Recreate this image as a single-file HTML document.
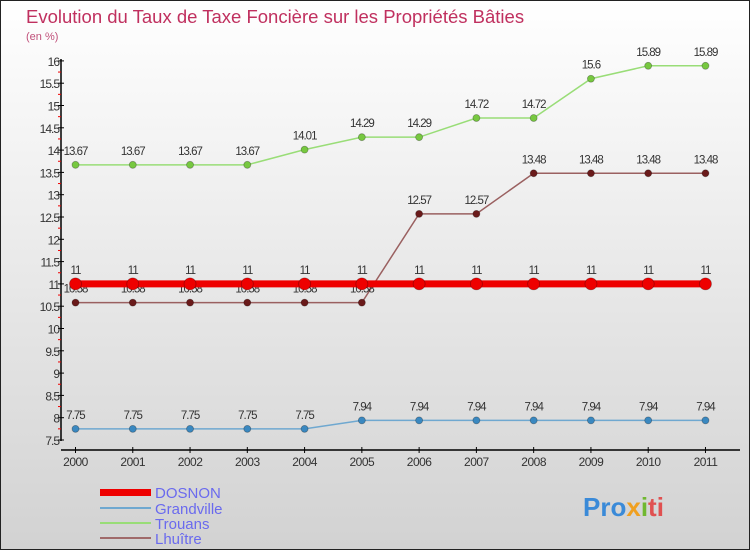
<!DOCTYPE html>
<html><head><meta charset="utf-8"><style>
body{margin:0;width:750px;height:550px;overflow:hidden;font-family:"Liberation Sans",sans-serif}
svg text{font-family:"Liberation Sans",sans-serif}
</style></head><body>
<svg id="c" width="750" height="550" xmlns="http://www.w3.org/2000/svg">
<defs><linearGradient id="bg" x1="0" y1="0" x2="0" y2="1"><stop offset="0" stop-color="#ffffff"/><stop offset="1" stop-color="#d2d2d2"/></linearGradient></defs>
<rect x="0.5" y="0.5" width="749" height="549" fill="url(#bg)" stroke="#222"/>
<text x="26" y="23" font-size="18.5" fill="#c0305f">Evolution du Taux de Taxe Foncière sur les Propriétés Bâties</text>
<text x="26" y="40" font-size="11" fill="#c0507a">(en %)</text>
<g id="axes"></g><g id="series"></g>
<g>
<rect x="100" y="489" width="51" height="7" fill="#ee0000"/>
<text x="155" y="498" font-size="15" fill="#6a6aee">DOSNON</text>
<rect x="100" y="507" width="51" height="2" fill="#6fa8d0"/>
<text x="155" y="514" font-size="15" fill="#6a6aee">Grandville</text>
<rect x="100" y="522" width="51" height="2" fill="#99dd77"/>
<text x="155" y="529" font-size="15" fill="#6a6aee">Trouans</text>
<rect x="100" y="537" width="51" height="2" fill="#a06a6a"/>
<text x="155" y="544" font-size="15" fill="#6a6aee">Lhuître</text>
</g>
<g><text x="583" y="516" font-size="26" font-weight="bold" fill="#3a8ad8">Pro<tspan fill="#f0a020">x</tspan><tspan fill="#70b830">i</tspan><tspan fill="#e05050">ti</tspan></text></g>
</svg>
<script>
const years=[2000,2001,2002,2003,2004,2005,2006,2007,2008,2009,2010,2011];
const yTicks=[7.5,8,8.5,9,9.5,10,10.5,11,11.5,12,12.5,13,13.5,14,14.5,15,15.5,16];
const dosnon=[11,11,11,11,11,11,11,11,11,11,11,11];
const grandville=[7.75,7.75,7.75,7.75,7.75,7.94,7.94,7.94,7.94,7.94,7.94,7.94];
const trouans=[13.67,13.67,13.67,13.67,14.01,14.29,14.29,14.72,14.72,15.6,15.89,15.89];
const lhuitre=[10.58,10.58,10.58,10.58,10.58,10.58,12.57,12.57,13.48,13.48,13.48,13.48];
const NS="http://www.w3.org/2000/svg";
const X=i=>75.5+i*57.27, Y=v=>440-(v-7.5)*44.6;
function mk(t,a,p){const e=document.createElementNS(NS,t);for(const k in a)e.setAttribute(k,a[k]);p.appendChild(e);return e;}
const ax=document.getElementById('axes'), sg=document.getElementById('series');
const yl=mk('line',{x1:61,y1:59,x2:61,y2:441,stroke:'#000','stroke-width':1.5},ax);


const xl=mk('line',{x1:61,y1:450,x2:740,y2:450,stroke:'#000','stroke-width':1.5},ax);


yTicks.forEach(v=>{const y=Y(v);
mk('line',{x1:58,y1:y,x2:64,y2:y,stroke:'#000'},ax);
mk('line',{x1:58,y1:y+11.15,x2:61,y2:y+11.15,stroke:v>7.5?'#e00':'none'},ax);
const t=mk('text',{x:59,y:y+5,'font-size':12,'text-anchor':'end',fill:'#333','letter-spacing':'-1'},ax);t.textContent=v;

});
years.forEach((yr,i)=>{const x=X(i);
mk('line',{x1:x,y1:447,x2:x,y2:453,stroke:'#000'},ax);
const t=mk('text',{x:x,y:466,'font-size':12,'text-anchor':'middle',fill:'#333','letter-spacing':'-0.5'},ax);t.textContent=yr;

});
function series(name,vals,col,dot,w,r){
const g=mk('g',{},sg);


mk('polyline',{points:vals.map((v,i)=>X(i)+','+Y(v)).join(' '),fill:'none',stroke:col,'stroke-width':w},g);
vals.forEach((v,i)=>{const c=mk('circle',{cx:X(i),cy:Y(v),r:r,fill:dot,stroke:'rgba(0,0,0,0.3)','stroke-width':0.8},g);


const t=mk('text',{x:X(i),y:Y(v)-10,'font-size':11.5,'text-anchor':'middle',fill:'#333','letter-spacing':'-1'},g);
t.textContent=String(v);

});}
series('lhuitre',lhuitre,'#9a6060','#6a1a1a',1.5,3.5);
series('trouans',trouans,'#99dd77','#77c840',1.5,3.5);
series('grandville',grandville,'#6fa8d0','#3a88c0',1.5,3.5);
series('dosnon',dosnon,'#ee0000','#ee0000',7,6);
</script>
</body></html>
